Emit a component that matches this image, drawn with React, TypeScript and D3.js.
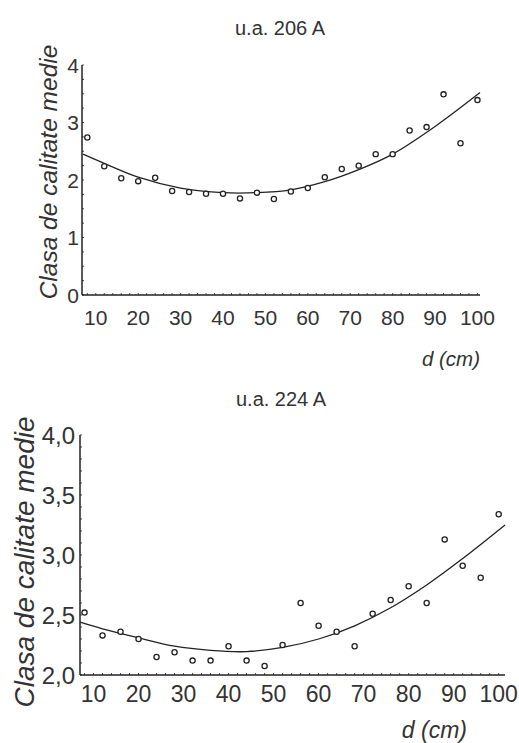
import React, { useEffect, useRef } from 'react';
import * as d3 from 'd3';

// diameter classes (cm), same for both management units
const diameters = [8, 12, 16, 20, 24, 28, 32, 36, 40, 44, 48, 52, 56, 60, 64, 68, 72, 76, 80, 84, 88, 92, 96, 100];

// u.a. 206 A - mean quality class per diameter
const valuesTop = [2.74, 2.24, 2.03, 1.98, 2.04, 1.81, 1.79, 1.76, 1.76, 1.68, 1.78, 1.67, 1.8, 1.86, 2.05, 2.19, 2.25, 2.45, 2.45, 2.86, 2.92, 3.49, 2.64, 3.39];
// fitted curve
const trendTopD = [7, 12, 20, 30, 40, 48, 56, 64, 72, 80, 90, 100.6];
const trendTopV = [2.45, 2.29, 2.05, 1.86, 1.78, 1.78, 1.83, 1.97, 2.18, 2.45, 2.93, 3.52];

// u.a. 224 A
const valuesBottom = [2.52, 2.33, 2.36, 2.3, 2.15, 2.19, 2.12, 2.12, 2.24, 2.12, 2.075, 2.25, 2.6, 2.41, 2.36, 2.24, 2.51, 2.625, 2.74, 2.6, 3.13, 2.91, 2.81, 3.34];
const trendBottomD = [7, 12, 20, 28, 36, 44, 52, 60, 68, 76, 84, 92, 101.4];
const trendBottomV = [2.44, 2.385, 2.31, 2.24, 2.205, 2.195, 2.23, 2.3, 2.41, 2.56, 2.75, 2.97, 3.25];

const xTicks = [10, 20, 30, 40, 50, 60, 70, 80, 90, 100];
const yTicksTop = [0, 1, 2, 3, 4];
const yTicksBottom = [2.0, 2.5, 3.0, 3.5, 4.0];

const TICK_FONT = '"Liberation Sans Narrow", "Liberation Sans", Arial, sans-serif';
const FONT = '"Liberation Sans", Arial, sans-serif';
const INK = '#222';
const TEXT = '#333';

function drawPanel(svg, cfg) {
  const x = d3.scaleLinear().domain(cfg.xDomain).range(cfg.xRange);
  const y = d3.scaleLinear().domain(cfg.yDomain).range(cfg.yRange);
  const g = svg.append('g');

  // axes lines
  g.append('line')
    .attr('x1', cfg.xRange[0]).attr('x2', cfg.xRange[0])
    .attr('y1', cfg.yRange[0]).attr('y2', cfg.yRange[1])
    .attr('stroke', INK).attr('stroke-width', 1.5);
  g.append('line')
    .attr('x1', cfg.xRange[0]).attr('x2', cfg.xRange[1])
    .attr('y1', cfg.yRange[0]).attr('y2', cfg.yRange[0])
    .attr('stroke', INK).attr('stroke-width', 1.5);

  // small inner ticks
  const minorX = d3.range(8, cfg.xDomain[1], 2);
  g.selectAll('.mx').data(minorX).enter().append('line')
    .attr('x1', d => x(d)).attr('x2', d => x(d))
    .attr('y1', cfg.yRange[0]).attr('y2', cfg.yRange[0] - 2)
    .attr('stroke', INK).attr('stroke-width', 0.8);
  const minorY = d3.range(cfg.yDomain[0], cfg.yDomain[1] + 0.001, cfg.yMinor);
  g.selectAll('.my').data(minorY).enter().append('line')
    .attr('x1', cfg.xRange[0]).attr('x2', cfg.xRange[0] + 2)
    .attr('y1', d => y(d)).attr('y2', d => y(d))
    .attr('stroke', INK).attr('stroke-width', 0.8);

  // tick labels
  g.selectAll('.xl').data(xTicks).enter().append('text')
    .attr('x', d => x(d)).attr('y', cfg.xLabelY)
    .attr('text-anchor', 'middle')
    .attr('font-family', TICK_FONT).attr('font-size', cfg.tickSize)
    .attr('fill', TEXT)
    .text(d => d);
  g.selectAll('.yl').data(cfg.yTicks).enter().append('text')
    .attr('x', cfg.yLabelX).attr('y', d => y(d)).attr('dy', '0.36em')
    .attr('text-anchor', 'end')
    .attr('font-family', TICK_FONT).attr('font-size', cfg.yTickSize)
    .attr('fill', TEXT)
    .text(d => cfg.yFormat(d));

  // trend curve
  const line = d3.line().x(d => x(d[0])).y(d => y(d[1])).curve(d3.curveCatmullRom);
  g.append('path')
    .datum(cfg.trendD.map((d, i) => [d, cfg.trendV[i]]))
    .attr('d', line)
    .attr('fill', 'none').attr('stroke', INK).attr('stroke-width', 1.3);

  // points
  g.selectAll('circle').data(diameters).enter().append('circle')
    .attr('cx', d => x(d))
    .attr('cy', (d, i) => y(cfg.values[i]))
    .attr('r', 2.6)
    .attr('fill', 'white').attr('stroke', INK).attr('stroke-width', 1.3);

  // title
  g.append('text')
    .attr('x', cfg.titleX).attr('y', cfg.titleY)
    .attr('text-anchor', 'middle')
    .attr('font-family', FONT).attr('font-size', 20)
    .attr('fill', TEXT)
    .text(cfg.title);

  // x axis label
  g.append('text')
    .attr('x', cfg.dLabelX).attr('y', cfg.dLabelY)
    .attr('text-anchor', 'end')
    .attr('font-family', FONT).attr('font-style', 'italic').attr('font-size', cfg.dLabelSize)
    .attr('fill', TEXT)
    .text('d (cm)');

  // y axis label
  g.append('text')
    .attr('transform', `translate(${cfg.yTitleX},${cfg.yTitleY}) rotate(-90)`)
    .attr('text-anchor', 'middle')
    .attr('font-family', FONT).attr('font-style', 'italic').attr('font-size', cfg.yTitleSize)
    .attr('fill', TEXT)
    .text('Clasa de calitate medie');
}

export default function App() {
  const svgRef = useRef(null);

  useEffect(() => {
    const svg = d3.select(svgRef.current);
    svg.selectAll('*').remove();

    drawPanel(svg, {
      title: 'u.a. 206 A', titleX: 280, titleY: 35,
      xDomain: [6.75, 100.6], xRange: [82, 480],
      yDomain: [0, 4], yRange: [295, 65], yMinor: 0.25,
      yTicks: yTicksTop, yFormat: d => String(d),
      values: valuesTop, trendD: trendTopD, trendV: trendTopV,
      xLabelY: 325, yLabelX: 79, tickSize: 21, yTickSize: 21,
      dLabelX: 480, dLabelY: 366, dLabelSize: 20.5,
      yTitleX: 57, yTitleY: 172, yTitleSize: 24.5,
    });

    drawPanel(svg, {
      title: 'u.a. 224 A', titleX: 281, titleY: 406,
      xDomain: [7, 101.4], xRange: [80, 505],
      yDomain: [2, 4], yRange: [675, 435], yMinor: 0.1,
      yTicks: yTicksBottom, yFormat: d => d3.format('.1f')(d).replace('.', ','),
      values: valuesBottom, trendD: trendBottomD, trendV: trendBottomV,
      xLabelY: 702, yLabelX: 75, tickSize: 23, yTickSize: 24,
      dLabelX: 467, dLabelY: 738, dLabelSize: 23,
      yTitleX: 34, yTitleY: 562, yTitleSize: 28,
    });
  }, []);

  return (
    <div style={{ position: 'absolute', left: 0, top: 0 }}>
      <svg ref={svgRef} width={519} height={743} style={{ display: 'block', background: 'white' }}></svg>
    </div>
  );
}
